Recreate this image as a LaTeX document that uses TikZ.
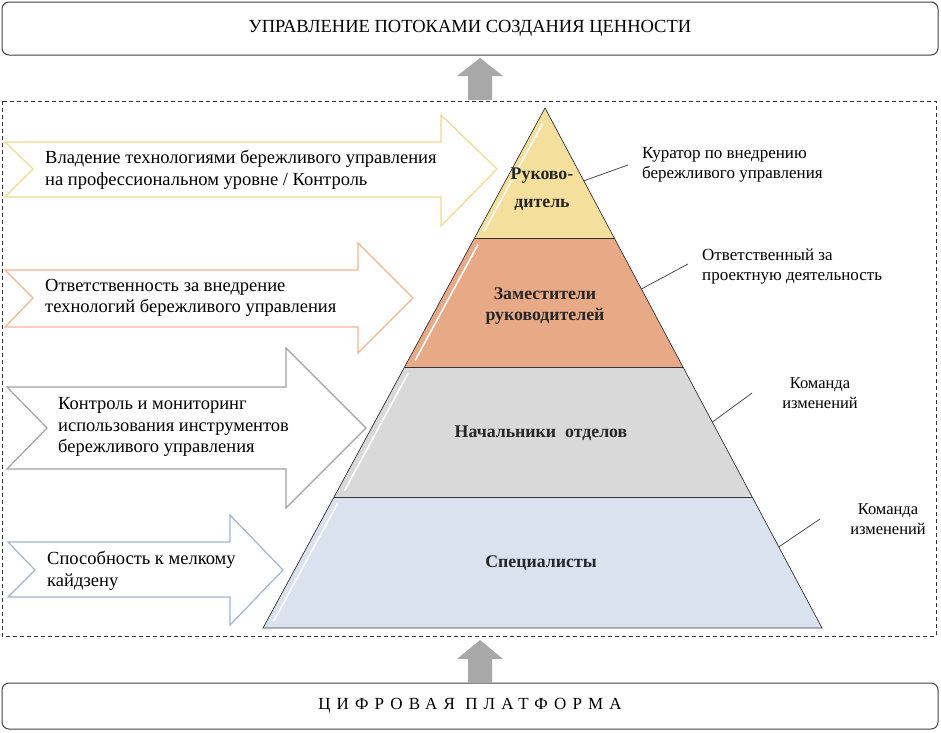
\documentclass[tikz,border=0pt]{standalone}
\usepackage{fontspec}
\setmainfont{Liberation Serif}
\usetikzlibrary{positioning,calc}

\definecolor{tieryellow}{HTML}{F4DF9C}
\definecolor{tierorange}{HTML}{E8A987}
\definecolor{tiergray}{HTML}{D9D9D9}
\definecolor{tierblue}{HTML}{DAE2EF}
\definecolor{lineyellow}{HTML}{F1D98C}
\definecolor{lineorange}{HTML}{F3B48E}
\definecolor{linegray}{HTML}{A3A3A3}
\definecolor{lineblue}{HTML}{A2B4CE}
\definecolor{liftgray}{HTML}{A8A8A8}

\begin{document}
\begin{tikzpicture}[%
    x=1pt,
    y=-1pt,
    every node/.style={font=\fontsize{18.5}{21}\selectfont},
    bar/.style={draw=black!75,line width=1pt,rounded corners=7pt,fill=white},
    tier/.style={draw=black!80,line width=0.7pt},
    shine/.style={draw=white,line width=1.6pt},
    tiertext/.style={text=black!85,align=center,font=\bfseries\fontsize{17.8}{21}\selectfont},
    note/.style={anchor=west,align=left,inner sep=0pt,font=\fontsize{17}{20}\selectfont},
    team/.style={align=center,inner sep=0pt,font=\fontsize{16.5}{20}\selectfont},
    task/.style={anchor=west,align=left,inner sep=0pt,font=\fontsize{18.5}{21.5}\selectfont},
    lead/.style={draw=black!70,line width=0.8pt},
    lift/.style={fill=liftgray,draw=none},
    wide/.style={fill=white,line width=1.2pt}
    ]

    \useasboundingbox (0,0) rectangle (941,732);

    \node[bar,minimum width=936pt,minimum height=53pt] (flow) at (470,28.5) {УПРАВЛЕНИЕ ПОТОКАМИ СОЗДАНИЯ ЦЕННОСТИ};
    \node[bar,minimum width=936pt,minimum height=46pt,font=\fontsize{17}{21}\selectfont] (platform) at (470,706)
        {\addfontfeature{LetterSpace=36}ЦИФРОВАЯ ПЛАТФОРМА};

    \draw[dashed,black!80,line width=0.8pt,dash pattern=on 4pt off 3pt] (2,101) rectangle (936,636);

    \fill[lift] (480,58) -- (503,76) -- (492,76) -- (492,100) -- (468,100) -- (468,76) -- (457,76) -- cycle;
    \fill[lift] (480,640) -- (503,659) -- (492,659) -- (492,683) -- (468,683) -- (468,659) -- (457,659) -- cycle;

    \coordinate (apex) at (545,108);
    \coordinate (bl) at (263,628);
    \coordinate (br) at (822,628);
    \foreach \t [count=\i] in {0.25,0.498,0.748} {
        \coordinate (l\i) at ($(apex)!\t!(bl)$);
        \coordinate (r\i) at ($(apex)!\t!(br)$);
    }

    \fill[tieryellow] (apex) -- (r1) -- (l1) -- cycle;
    \fill[tierorange] (l1) -- (r1) -- (r2) -- (l2) -- cycle;
    \fill[tiergray] (l2) -- (r2) -- (r3) -- (l3) -- cycle;
    \fill[tierblue] (l3) -- (r3) -- (br) -- (bl) -- cycle;
    \draw[shine] ($(apex)!0.12!(l1)+(6,0)$) -- ($(apex)!0.95!(l1)+(6,0)$);
    \draw[shine] ($(l1)!0.05!(l2)+(7,0)$) -- ($(l1)!0.95!(l2)+(7,0)$);
    \draw[shine] ($(l2)!0.05!(l3)+(7,0)$) -- ($(l2)!0.95!(l3)+(7,0)$);
    \draw[shine] ($(l3)!0.05!(bl)+(7,0)$) -- ($(l3)!0.95!(bl)+(7,0)$);
    \draw[tier] (apex) -- (br) -- (bl) -- cycle;
    \draw[tier] (l1) -- (r1) (l2) -- (r2) (l3) -- (r3);

    \node[tiertext] (head) at (542,189.5) {Руково-\\[7pt]дитель};
    \node[tiertext] (deputy) at (545,306) {Заместители\\руководителей};
    \node[tiertext] (chiefs) at (541,433) {Начальники\ \ отделов};
    \node[tiertext] (staff) at (541,563) {Специалисты};

    \draw[lineyellow,wide] (5,142) -- (441,142) -- (441,115) -- (497,169) -- (441,226) -- (441,197) -- (5,197) -- (33,169) -- cycle;
    \draw[lineorange,wide] (5,270) -- (358,270) -- (358,243) -- (413,298) -- (358,353) -- (358,327) -- (5,327) -- (33,298) -- cycle;
    \draw[linegray,wide] (7,387) -- (286,387) -- (286,348) -- (366,428) -- (286,508) -- (286,469) -- (7,469) -- (47,428) -- cycle;
    \draw[lineblue,wide] (8,542) -- (230,542) -- (230,515) -- (283,570) -- (230,625) -- (230,597) -- (8,597) -- (35,570) -- cycle;

    \node[task] (skill) at (45,170) {Владение технологиями бережливого управления\\на профессиональном уровне / Контроль};
    \node[task] (duty) at (45,298) {Ответственность за внедрение\\технологий бережливого управления};
    \node[task] (monitor) at (58,427) {Контроль и мониторинг\\использования инструментов\\бережливого управления};
    \node[task] (kaizen) at (47,571) {Способность к мелкому\\кайдзену};

    \node[note] (curator) at (642,165) {Куратор по внедрению\\бережливого управления};
    \node[note] (project) at (702,267) {Ответственный за\\проектную деятельность};
    \node[team] (team1) at (820,393) {Команда\\изменений};
    \node[team] (team2) at (888,519) {Команда\\изменений};

    \coordinate (e1) at ($(apex)!0.14!(br)$);
    \coordinate (e2) at ($(apex)!0.348!(br)$);
    \coordinate (e3) at ($(apex)!0.604!(br)$);
    \coordinate (e4) at ($(apex)!0.844!(br)$);
    \draw[lead] (e1) -- ([xshift=-14pt]curator.west);
    \draw[lead] (e2) -- ([xshift=-14pt,yshift=3pt]project.west);
    \draw[lead] (e3) -- ([xshift=-30pt]team1.west);
    \draw[lead] (e4) -- ([xshift=-30pt]team2.west);

\end{tikzpicture}
\end{document}
